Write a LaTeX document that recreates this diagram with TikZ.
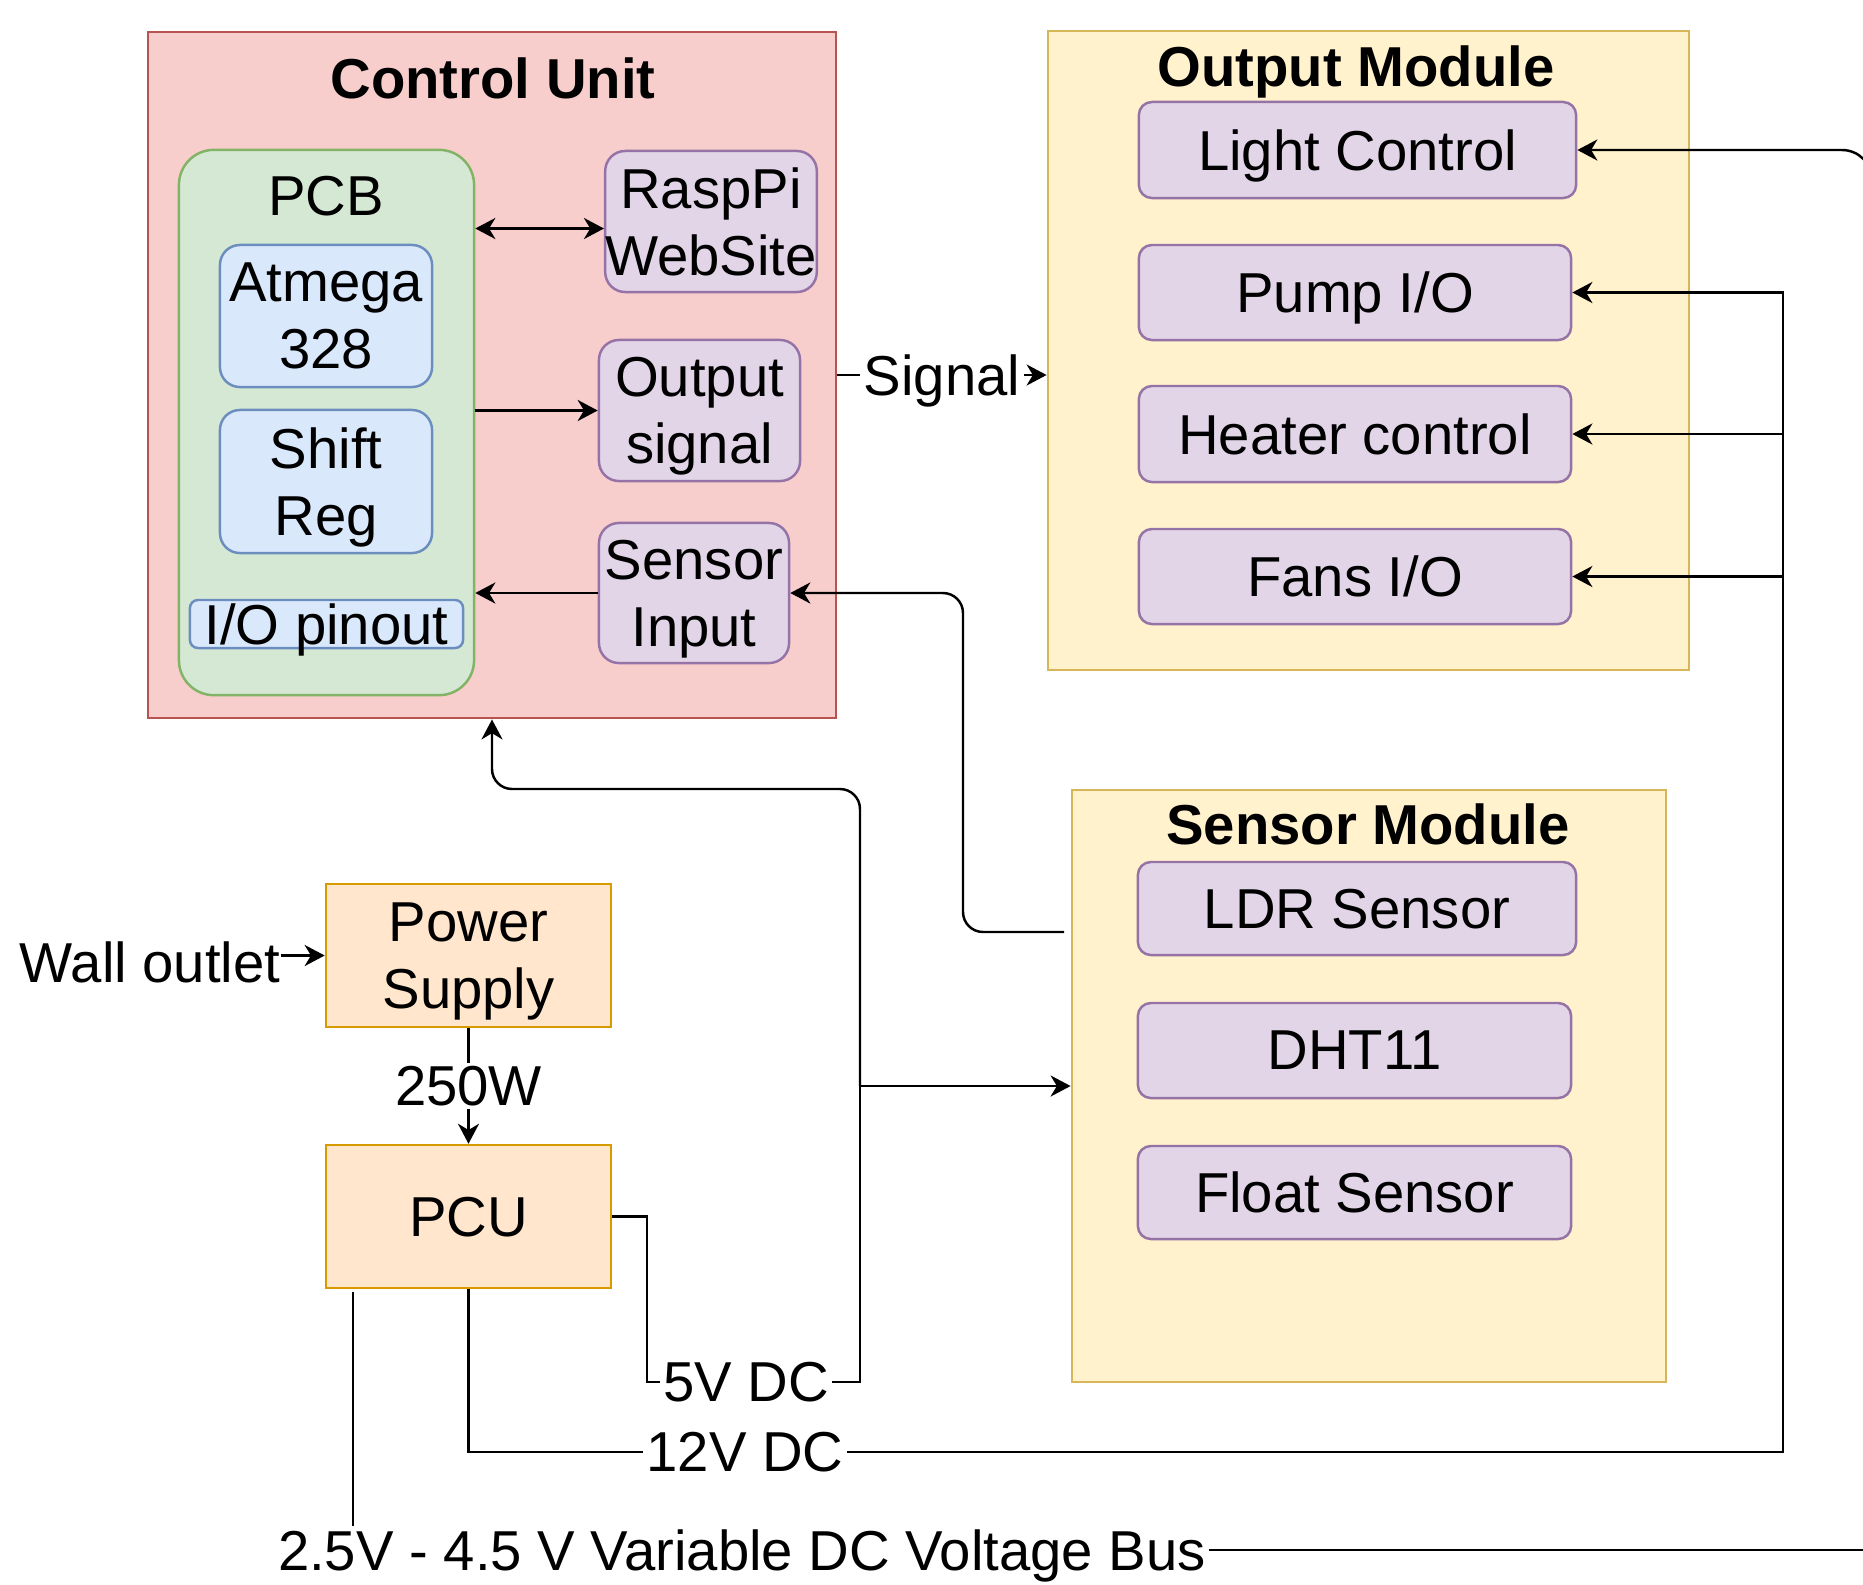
\documentclass[tikz,border=0pt]{standalone}
\usepackage{fontspec}
\setmainfont{Liberation Sans}
\usepackage{xcolor}
\usepackage{tikz}
\usetikzlibrary{
  arrows.meta,
  positioning,
  calc
}
\definecolor{CtrlFill}{HTML}{F8CECC}
\definecolor{CtrlLine}{HTML}{B85450}
\definecolor{PcbFill}{HTML}{D5E8D4}
\definecolor{PcbLine}{HTML}{82B366}
\definecolor{ChipFill}{HTML}{DAE8FC}
\definecolor{ChipLine}{HTML}{6C8EBF}
\definecolor{PartFill}{HTML}{E1D5E7}
\definecolor{PartLine}{HTML}{9673A6}
\definecolor{ModFill}{HTML}{FFF2CC}
\definecolor{ModLine}{HTML}{D6B656}
\definecolor{PowerFill}{HTML}{FFE6CC}
\definecolor{PowerLine}{HTML}{D79B00}

\tikzset{
  basefont/.style={font=\fontsize{16}{19}\selectfont},
  box/.style={draw, line width=0.7pt, inner sep=0pt, align=center, text depth=0pt, basefont},
  unitbox/.style={box, fill=CtrlFill, draw=CtrlLine},
  pcbbox/.style={box, fill=PcbFill, draw=PcbLine, rounded corners=0.35cm},
  chipbox/.style={box, fill=ChipFill, draw=ChipLine, rounded corners=0.2cm},
  partbox/.style={box, fill=PartFill, draw=PartLine, rounded corners=0.2cm},
  itembox/.style={box, fill=PartFill, draw=PartLine, rounded corners=0.13cm},
  modbox/.style={box, fill=ModFill, draw=ModLine},
  powerbox/.style={box, fill=PowerFill, draw=PowerLine},
  boxtitle/.style={font=\fontsize{16}{19}\selectfont\bfseries, inner sep=0pt, anchor=base},
  plaintext/.style={basefont, inner sep=0pt},
  lbl/.style={basefont, fill=white, inner sep=1pt, text depth=0pt},
  wire/.style={line width=0.7pt},
  arr/.style={wire, -{Stealth[length=5.7pt,width=6pt,inset=1.8pt]}},
  dblarr/.style={wire, {Stealth[length=5.7pt,width=6pt,inset=1.8pt]}-{Stealth[length=5.7pt,width=6pt,inset=1.8pt]}}
}

\begin{document}
\begin{tikzpicture}[x=0.01cm, y=-0.01cm]
\useasboundingbox (0,0) rectangle (1863,1584);
\clip (0,0) rectangle (1863,1584);

% control unit
\node[unitbox, minimum width=6.88cm, minimum height=6.86cm] (cu) at (492,375) {};
\node[boxtitle] (cuTitle) at (493,98) {Control Unit};
\node[pcbbox, minimum width=2.95cm, minimum height=5.45cm] (pcb) at (326.5,422.5) {};
\node[boxtitle, font=\fontsize{16}{19}\selectfont] (pcbTitle) at (326,215) {PCB};
\node[chipbox, minimum width=2.12cm, minimum height=1.42cm] (atmega) at (326,316) {Atmega\\328};
\node[chipbox, minimum width=2.12cm, minimum height=1.43cm] (shiftreg) at (326,481.5) {Shift\\Reg};
\node[chipbox, rounded corners=0.08cm, minimum width=2.73cm, minimum height=0.48cm] (iopin) at (326.5,624) {I/O pinout};
\node[partbox, minimum width=2cm, minimum height=1.41cm] (raspi) at (711,221.5) {RaspPi\\WebSite};
\node[partbox, minimum width=2.01cm, minimum height=1.41cm] (outsig) at (699.5,410.5) {Output\\signal};
\node[partbox, minimum width=1.9cm, minimum height=1.4cm] (sensin) at (694,593) {Sensor\\Input};

% output module
\node[modbox, minimum width=6.41cm, minimum height=6.39cm] (om) at (1368.5,350.5) {};
\node[boxtitle] (omTitle) at (1356,86) {Output Module};
\node[itembox, minimum width=4.37cm, minimum height=0.96cm] (light) at (1357.5,150) {Light Control};
\node[itembox, minimum width=4.32cm, minimum height=0.95cm] (pump) at (1355,292.5) {Pump I/O};
\node[itembox, minimum width=4.32cm, minimum height=0.96cm] (heater) at (1355,434) {Heater control};
\node[itembox, minimum width=4.32cm, minimum height=0.95cm] (fans) at (1355,576.5) {Fans I/O};

% sensor module
\node[modbox, minimum width=5.94cm, minimum height=5.92cm] (sm) at (1369,1086) {};
\node[boxtitle] (smTitle) at (1368,844) {Sensor Module};
\node[itembox, minimum width=4.38cm, minimum height=0.93cm] (ldr) at (1357,908.5) {LDR Sensor};
\node[itembox, minimum width=4.33cm, minimum height=0.95cm] (dht) at (1354.5,1050.5) {DHT11};
\node[itembox, minimum width=4.33cm, minimum height=0.93cm] (float) at (1354.5,1192.5) {Float Sensor};

% power
\node[powerbox, minimum width=2.85cm, minimum height=1.43cm] (psu) at (468.5,955.5) {Power\\Supply};
\node[powerbox, minimum width=2.85cm, minimum height=1.43cm] (pcu) at (468.5,1216.5) {PCU};
\node[plaintext, anchor=base east] (wall) at (281,982) {Wall outlet};

\coordinate (ldrTap) at (1064,932);
\coordinate (tap5) at (860,1086);
\coordinate (bus12) at (1783,1452);
\coordinate (busStart) at (353,1292);
\coordinate (busCorner) at (1872,1550);

% links inside the control unit
\draw[dblarr] ([yshift=-0.07cm]pcb.east |- raspi.west) -- ([yshift=-0.07cm]raspi.west);
\draw[arr] (pcb.east |- outsig.west) -- (outsig.west);
\draw[arr] (sensin.west) -- (pcb.east |- sensin.west);

% signal and sensor lines
\draw[arr] (cu.east) -- (om.west |- cu.east) node[lbl, midway] (sigLbl) {Signal};
\draw[arr, rounded corners=0.2cm] (ldrTap) -| (963,593) -- (sensin.east);

% supply lines
\draw[arr] (wall.east |- psu.west) -- (psu.west);
\draw[arr] (psu.south) -- (pcu.north) node[lbl, midway] (wattLbl) {250W};
\draw[wire] (pcu.east) -| (647,1382) -| (tap5);
\draw[arr, rounded corners=0.2cm] (tap5) -- (860,789) -| (cu.south);
\draw[arr] (tap5) -- (sm.west);
\node[lbl] (v5Lbl) at (746,1382) {5V DC};

\draw[arr] (pcu.south) |- (bus12) |- (pump.east);
\draw[arr] (heater.east -| bus12) -- (heater.east);
\draw[arr] (fans.east -| bus12) -- (fans.east);
\node[lbl] (v12Lbl) at (745,1452) {12V DC};

\draw[wire] (busStart) |- (busCorner);
\draw[arr, rounded corners=0.3cm] (busCorner) |- (light.east);
\node[lbl] (busLbl) at (742,1550) {2.5V - 4.5 V Variable DC Voltage Bus};
\end{tikzpicture}
\end{document}
